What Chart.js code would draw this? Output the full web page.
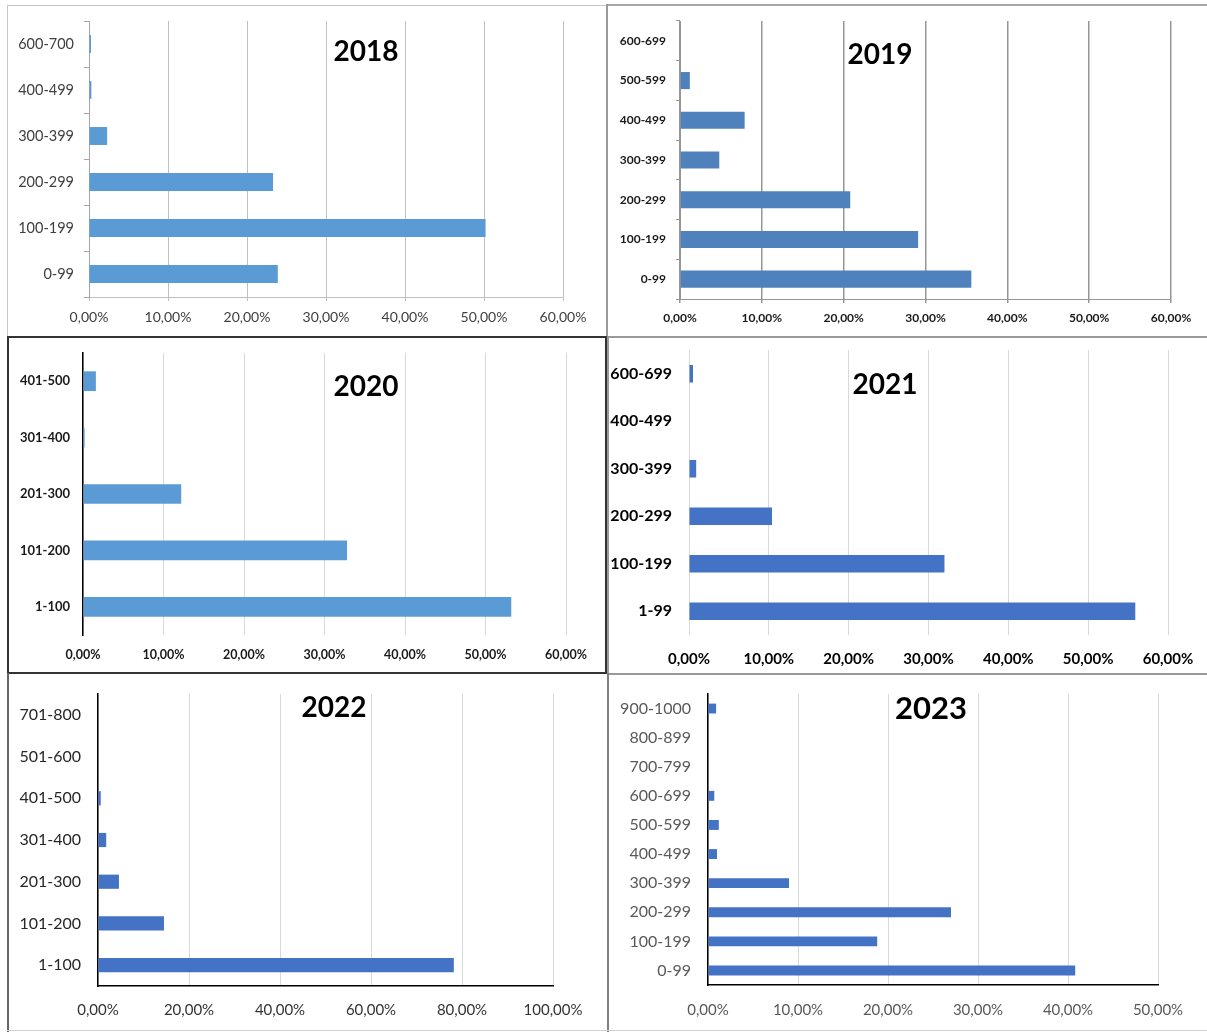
<!DOCTYPE html>
<html lang="en">
  <head>
    <meta charset="UTF-8" />
    <title>Distribution by range, 2018-2023</title>
    <script src="https://cdn.jsdelivr.net/npm/chart.js"></script>
    <style>
      body {
        margin: 0;
        width: 1207px;
        height: 1032px;
        position: relative;
        overflow: hidden;
        background: #fff;
        font-family: Lato, sans-serif;
      }
      .line { position: absolute; }
      canvas { position: absolute; }
      .ttl {
        position: absolute;
        font-weight: bold;
        line-height: 1;
        color: #000;
        transform: translate(-50%, -50%);
        white-space: nowrap;
      }
    </style>
  </head>
  <body>
    <script>
      // values, in % (first category = bottom bar)
      var labels2018 = ["0-99", "100-199", "200-299", "300-399", "400-499", "600-700"];
      var values2018 = [23.9, 50.2, 23.3, 2.3, 0.3, 0.25];

      var labels2019 = ["0-99", "100-199", "200-299", "300-399", "400-499", "500-599", "600-699"];
      var values2019 = [35.6, 29.1, 20.8, 4.8, 7.9, 1.2, 0];

      var labels2020 = ["1-100", "101-200", "201-300", "301-400", "401-500"];
      var values2020 = [53.2, 32.8, 12.2, 0.2, 1.6];

      var labels2021 = ["1-99", "100-199", "200-299", "300-399", "400-499", "600-699"];
      var values2021 = [55.9, 32.0, 10.4, 0.9, 0, 0.5];

      var labels2022 = ["1-100", "101-200", "201-300", "301-400", "401-500", "501-600", "701-800"];
      var values2022 = [78.2, 14.5, 4.6, 1.8, 0.6, 0, 0];

      var labels2023 = ["0-99", "100-199", "200-299", "300-399", "400-499", "500-599", "600-699", "700-799", "800-899", "900-1000"];
      var values2023 = [40.8, 18.8, 27.0, 9.0, 1.0, 1.2, 0.7, 0, 0, 0.9];

      // x axis range per panel: [max, step]
      var axis2018 = [60, 10];
      var axis2019 = [60, 10];
      var axis2020 = [60, 10];
      var axis2021 = [60, 10];
      var axis2022 = [100, 20];
      var axis2023 = [50, 10];

      function pct(v) {
        return v.toFixed(2).replace(".", ",") + "%";
      }

      // panel frame lines: [left, top, width, height, colour]
      var frames = [
        [7, 5, 600, 1, "#c6c6c6"], [7, 5, 1, 332, "#c6c6c6"],
        [607, 4, 600, 2, "#a6a6a6"], [606, 4, 2, 333, "#9a9a9a"],
        [7, 336, 600, 2, "#333"], [7, 336, 2, 338, "#333"], [605, 336, 2, 338, "#333"], [7, 672, 600, 2, "#333"],
        [607, 336, 600, 2, "#9a9a9a"], [607, 336, 2, 338, "#9a9a9a"],
        [7, 673, 2, 359, "#666"], [7, 1030, 600, 1, "#cfcfcf"],
        [607, 673, 600, 2, "#999"], [607, 673, 2, 359, "#808080"], [607, 1030, 600, 1, "#cfcfcf"]
      ];
      frames.forEach(function (f) {
        var d = document.createElement("div");
        d.className = "line";
        d.style.cssText = "left:" + f[0] + "px;top:" + f[1] + "px;width:" + f[2] + "px;height:" + f[3] + "px;background:" + f[4];
        document.body.appendChild(d);
      });

      var panels = [
        { year: "2018", labels: labels2018, values: values2018, axis: axis2018, color: "#5b9bd5",
          box: [9, 7, 597, 329], area: [89, 563, 21, 297], bar: 0.39, title: [366, 50, 28],
          yFont: { size: 14.5 }, yColor: "#404040", yPad: 10, yTick: 5,
          xFont: { size: 14 }, xColor: "#404040", xPad: 8, xTick: 4,
          grid: "#c0c0c0", gridW: 1, yBorder: "#a6a6a6", xBorder: "#c0c0c0" },
        { year: "2019", labels: labels2019, values: values2019, axis: axis2019, color: "#4f81bd",
          box: [609, 7, 598, 329], area: [680, 1171, 21, 299], bar: 0.43, title: [880, 53, 28],
          yFont: { size: 12, weight: "bold" }, yColor: "#1a1a1a", yPad: 10, yTick: 4,
          xFont: { size: 12, weight: "bold" }, xColor: "#1a1a1a", xPad: 8, xTick: 4,
          grid: "#969696", gridW: 1.5, yBorder: "#969696", xBorder: "#969696" },
        { year: "2020", labels: labels2020, values: values2020, axis: axis2020, color: "#5b9bd5",
          box: [9, 338, 596, 334], area: [83, 566, 353, 635], bar: 0.35, title: [366, 385, 28],
          yFont: { size: 13, weight: "bold" }, yColor: "#1a1a1a", yPad: 13, yTick: 0,
          xFont: { size: 12.5, weight: "bold" }, xColor: "#1a1a1a", xPad: 12, xTick: 0,
          grid: "#d9d9d9", gridW: 1, yBorder: "#000", xBorder: null },
        { year: "2021", labels: labels2021, values: values2021, axis: axis2021, color: "#4472c4",
          box: [609, 338, 598, 335], area: [689, 1168, 350, 635], bar: 0.37, title: [885, 383, 28],
          yFont: { size: 16, weight: "bold" }, yColor: "#000", yPad: 17, yTick: 0,
          xFont: { size: 15, weight: "bold" }, xColor: "#000", xPad: 15, xTick: 0,
          grid: "#d9d9d9", gridW: 1, yBorder: null, xBorder: null },
        { year: "2022", labels: labels2022, values: values2022, axis: axis2022, color: "#4472c4",
          box: [9, 674, 598, 356], area: [98, 553, 694, 986], bar: 0.34, title: [334, 706, 28],
          yFont: { size: 16 }, yColor: "#262626", yPad: 17, yTick: 0,
          xFont: { size: 15 }, xColor: "#333", xPad: 15, xTick: 0,
          grid: "#d9d9d9", gridW: 1, yBorder: "#000", xBorder: "#000" },
        { year: "2023", labels: labels2023, values: values2023, axis: axis2023, color: "#4472c4",
          box: [609, 675, 598, 355], area: [708, 1158, 694, 985], bar: 0.34, title: [931, 707, 31],
          yFont: { size: 16 }, yColor: "#595959", yPad: 17, yTick: 0,
          xFont: { size: 15 }, xColor: "#595959", xPad: 16, xTick: 0,
          grid: "#d9d9d9", gridW: 1, yBorder: "#000", xBorder: "#000" }
      ];

      panels.forEach(function (p) {
        var cv = document.createElement("canvas");
        cv.width = p.box[2];
        cv.height = p.box[3];
        cv.style.left = p.box[0] + "px";
        cv.style.top = p.box[1] + "px";
        document.body.appendChild(cv);

        var yf = Object.assign({ family: "Lato" }, p.yFont);
        var xf = Object.assign({ family: "Lato" }, p.xFont);

        new Chart(cv.getContext("2d"), {
          type: "bar",
          data: {
            labels: p.labels,
            datasets: [
              {
                data: p.values,
                backgroundColor: p.color,
                barPercentage: p.bar,
                categoryPercentage: 1,
              },
            ],
          },
          options: {
            indexAxis: "y",
            responsive: false,
            animation: false,
            devicePixelRatio: 1,
            layout: {
              padding: {
                top: p.area[2] - p.box[1],
                right: p.box[0] + p.box[2] - p.area[1],
                left: 0,
                bottom: 0,
              },
            },
            plugins: { legend: { display: false }, tooltip: { enabled: false } },
            scales: {
              x: {
                min: 0,
                max: p.axis[0],
                ticks: {
                  stepSize: p.axis[1],
                  callback: pct,
                  font: xf,
                  color: p.xColor,
                  padding: p.xPad,
                  maxRotation: 0,
                  autoSkip: false,
                },
                grid: {
                  color: p.grid,
                  lineWidth: p.gridW,
                  drawTicks: p.xTick > 0,
                  tickLength: p.xTick,
                },
                border: {
                  display: !!p.xBorder,
                  color: p.xBorder || "#000",
                  width: p.xBorder === "#000" ? 1.5 : 1,
                },
                afterFit: function (s) {
                  s.height = p.box[1] + p.box[3] - p.area[3];
                  s.paddingLeft = 0;
                  s.paddingRight = 0;
                },
              },
              y: {
                reverse: true,
                ticks: { font: yf, color: p.yColor, padding: p.yPad, autoSkip: false },
                grid: {
                  display: p.yTick > 0,
                  drawOnChartArea: false,
                  drawTicks: p.yTick > 0,
                  tickLength: p.yTick,
                  color: p.yBorder || "#000",
                },
                border: {
                  display: !!p.yBorder,
                  color: p.yBorder || "#000",
                  width: p.yBorder === "#000" ? 1.5 : 1,
                },
                afterFit: function (s) {
                  s.width = p.area[0] - p.box[0];
                  s.paddingTop = 0;
                  s.paddingBottom = 0;
                },
              },
            },
          },
        });

        var t = document.createElement("div");
        t.className = "ttl";
        t.textContent = p.year;
        t.style.left = p.title[0] + "px";
        t.style.top = p.title[1] + "px";
        t.style.fontSize = p.title[2] + "px";
        document.body.appendChild(t);
      });
    </script>
  </body>
</html>
